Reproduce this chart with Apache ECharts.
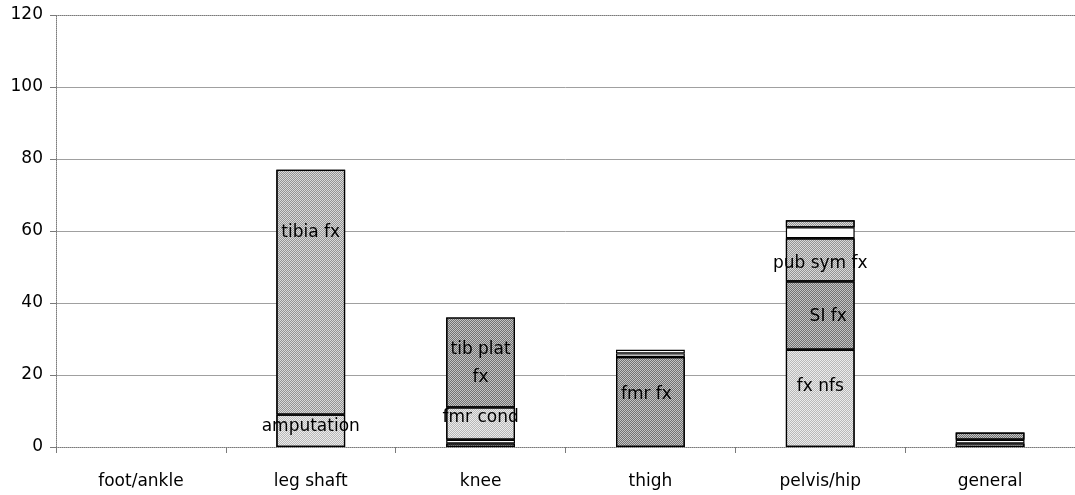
<!DOCTYPE html>
<html>
<head>
<meta charset="utf-8">
<style>
  html, body { margin: 0; padding: 0; background: #fff; }
  #chart { width: 1075px; height: 495px; }
</style>
<script src="https://cdn.jsdelivr.net/npm/echarts@6/dist/echarts.min.js"></script>
</head>
<body>
<div id="chart"></div>
<script>
// Injury counts by body region, stacked bottom to top
const categories = ['foot/ankle', 'leg shaft', 'knee', 'thigh', 'pelvis/hip', 'general'];

const level1 = [null, 9, 1, 25, 27, 1];
const level2 = [null, 68, 1, 1, 19, 1];
const level3 = [null, null, 9, 1, 12, 2];
const level4 = [null, null, 25, null, 3, null];
const level5 = [null, null, null, null, 2, null];

const names1 = ['', 'amputation', '', 'fmr fx', 'fx nfs', ''];
const names2 = ['', 'tibia fx', '', '', 'SI fx', ''];
const names3 = ['', '', 'fmr cond', '', 'pub sym fx', ''];
const names4 = ['', '', 'tib plat\nfx', '', '', ''];
const names5 = ['', '', '', '', '', ''];

const shade1 = ['', 'light', 'dark', 'dark', 'light', 'light'];
const shade2 = ['', 'medium', 'white', 'white', 'dark', 'white'];
const shade3 = ['', '', 'light', 'white', 'medium', 'dark'];
const shade4 = ['', '', 'dark', '', 'white', ''];
const shade5 = ['', '', '', '', 'medium', ''];

const yTicks = [0, 20, 40, 60, 80, 100, 120];

// fine dotted fills: base colour plus a 1px checker texture
const fills = {
  light: { base: '#ececec', dots: 'rgba(0,0,0,0.22)' },
  medium: { base: '#dadada', dots: 'rgba(0,0,0,0.32)' },
  dark: { base: '#c4c4c4', dots: 'rgba(0,0,0,0.42)' },
  white: { base: '#ffffff', dots: null }
};

// hand placement of a few in-bar labels (pixels)
const labelNudge = {
  'tibia fx': [0, -60],
  'amputation': [0, -4],
  'fmr cond': [0, -6],
  'fmr fx': [-4, -7],
  'fx nfs': [0, -12],
  'SI fx': [8, 1],
  'pub sym fx': [0, 4],
  'tib plat\nfx': [0, 1]
};

const FONT = 'DejaVu Sans';
const FONT_SIZE = 17;

function fillStyle(kind) {
  const f = fills[kind];
  const style = { color: f.base, borderColor: '#000', borderWidth: 1.2 };
  if (f.dots) {
    style.decal = {
      symbol: 'rect',
      symbolSize: 1,
      color: f.dots,
      dashArrayX: [[1, 1], [0, 1, 1, 0]],
      dashArrayY: [1, 0],
      rotation: 0
    };
  }
  return style;
}

function buildSeries(values, names, shades, idx) {
  return {
    type: 'bar',
    name: 'level' + idx,
    stack: 'total',
    barWidth: '40.5%',
    xAxisIndex: 0,
    data: values.map((v, j) => {
      if (v === null) return '-';
      const txt = names[j];
      return {
        value: v,
        itemStyle: fillStyle(shades[j]),
        label: {
          show: !!txt,
          position: 'inside',
          formatter: txt,
          color: '#000',
          fontFamily: FONT,
          fontSize: FONT_SIZE,
          lineHeight: 28,
          offset: labelNudge[txt] || [0, 0]
        }
      };
    })
  };
}

const chart = echarts.init(document.getElementById('chart'), null, { renderer: 'canvas' });

chart.setOption({
  animation: false,
  backgroundColor: '#fff',
  aria: { enabled: false },
  grid: { left: 56, right: -8, top: 15, bottom: 48, containLabel: false },
  xAxis: [
    {
      type: 'category',
      data: categories,
      boundaryGap: true,
      axisLine: { show: true, lineStyle: { color: '#7a7a7a', type: 'dotted', width: 1 } },
      axisTick: { show: true, length: 6, alignWithLabel: false, lineStyle: { color: '#7a7a7a' } },
      axisLabel: { color: '#000', fontFamily: FONT, fontSize: FONT_SIZE, margin: 26 },
      splitLine: { show: false }
    },
    {
      type: 'category',
      position: 'top',
      data: categories,
      axisLine: { show: true, lineStyle: { color: '#7a7a7a', type: 'dotted', width: 1 } },
      axisTick: { show: false },
      axisLabel: { show: false },
      splitLine: { show: false }
    }
  ],
  yAxis: {
    type: 'value',
    min: yTicks[0],
    max: yTicks[yTicks.length - 1],
    interval: yTicks[1] - yTicks[0],
    axisLine: { show: true, lineStyle: { color: '#7a7a7a', type: 'dotted', width: 1 } },
    axisTick: { show: true, length: 6, lineStyle: { color: '#7a7a7a' } },
    axisLabel: { color: '#000', fontFamily: FONT, fontSize: FONT_SIZE, margin: 13 },
    splitLine: { show: true, showMinLine: false, showMaxLine: false, lineStyle: { color: '#a0a0a0', width: 1 } }
  },
  series: [
    buildSeries(level1, names1, shade1, 1),
    buildSeries(level2, names2, shade2, 2),
    buildSeries(level3, names3, shade3, 3),
    buildSeries(level4, names4, shade4, 4),
    buildSeries(level5, names5, shade5, 5)
  ]
});
</script>
</body>
</html>
